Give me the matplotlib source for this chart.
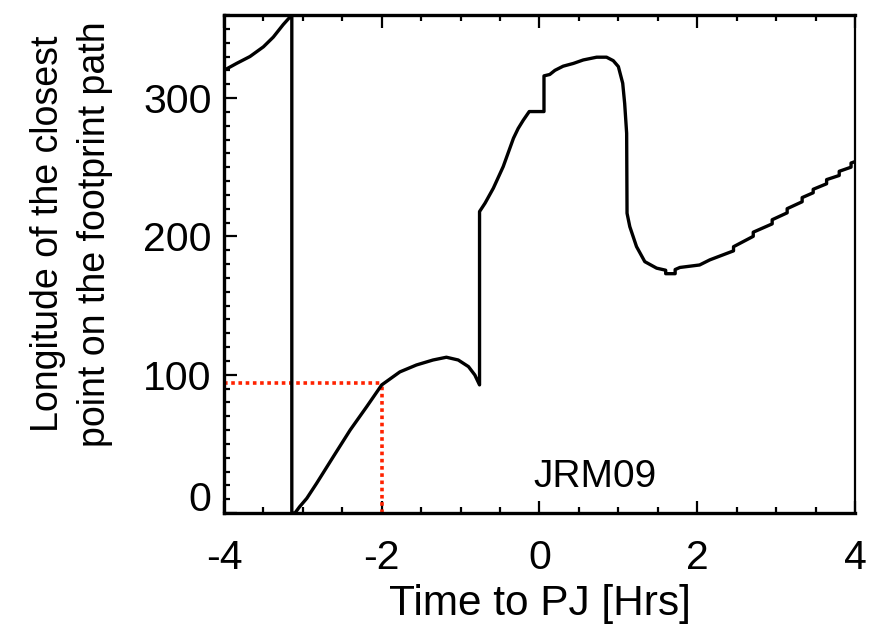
import matplotlib
matplotlib.use("Agg")
import matplotlib.pyplot as plt
from matplotlib.ticker import MultipleLocator

# time to perijove [hrs] and longitude of closest footprint point [deg]
time_hrs = [-4.0, -3.84, -3.67, -3.50, -3.375, -3.25, -3.14, -3.14, -3.10, -3.04,
            -2.95, -2.825, -2.614, -2.40, -2.19, -2.0, -1.77, -1.56, -1.35, -1.18,
            -1.03, -0.90, -0.82, -0.76, -0.76, -0.69, -0.585, -0.46, -0.33, -0.27,
            -0.205, -0.13, 0.057, 0.057, 0.13, 0.196, 0.30, 0.43, 0.555, 0.725,
            0.85, 0.935, 1.0, 1.055, 1.08, 1.105, 1.11, 1.145, 1.23, 1.335,
            1.485, 1.6, 1.6, 1.72, 1.72, 1.78, 2.03, 2.16, 2.46, 2.46,
            2.71, 2.71, 2.95, 2.95, 3.14, 3.14, 3.33, 3.33, 3.47, 3.47,
            3.64, 3.64, 3.80, 3.80, 3.95, 3.95, 4.0]
longitude = [320, 325, 330, 337, 344, 353, 360, 0, 0, 4.6,
             10.6, 21.5, 40.7, 60, 76.9, 92.6, 102, 107, 110.6, 112.6,
             110.6, 105.8, 99.8, 92.6, 217.9, 224, 234.8, 250.4, 270.9, 278,
             284, 290.2, 290.2, 316, 317, 320, 323, 325, 327.5, 329.5,
             329.5, 327, 322.7, 310.7, 296, 274.5, 216.7, 207, 192.6, 181.7,
             177, 175.5, 173, 173, 176, 177.5, 179.3, 183, 189.5, 192.5,
             200, 203, 209, 212, 217, 220, 225, 228, 231.5, 234,
             238, 241, 244, 247, 250, 253, 254]

# red marker lines
mark_t = -2.0
mark_lon = 94
model_name = "JRM09"

plt.rcParams['font.family'] = ['Liberation Sans', 'DejaVu Sans']

fig = plt.figure(figsize=(8.78, 6.25), dpi=100)
ax = fig.add_axes([0.2551, 0.1792, 0.7187, 0.7968])

ax.plot(time_hrs, longitude, color='black', lw=2.4, zorder=3)
ax.plot([-4, mark_t], [mark_lon, mark_lon], color='#ff2200', lw=2.6,
        linestyle=(0, (1, 1)), zorder=2)
ax.plot([mark_t, mark_t], [0, mark_lon], color='#ff2200', lw=2.6,
        linestyle=(0, (1, 1)), zorder=2)

ax.set_xlim(-4, 4)
ax.set_ylim(0, 360)
ax.set_xticks([-4, -2, 0, 2, 4])
ax.set_xticklabels(['-4', '-2', '0', '2', '4'])
ax.xaxis.set_minor_locator(MultipleLocator(0.5))
ax.set_yticks([0, 100, 200, 300])
ax.set_yticklabels(['', '100', '200', '300'])
ax.yaxis.set_minor_locator(MultipleLocator(10))

ax.tick_params(which='both', direction='in', top=True, right=False, width=1.6, labelsize=29.5)
ax.tick_params(which='major', length=9)
ax.tick_params(which='minor', length=4)
ax.tick_params(axis='x', pad=19)
ax.tick_params(axis='y', pad=9)

# zero label sits a bit above the axis corner in the original
ax.annotate('0', xy=(0, 0), xycoords='axes fraction', xytext=(-9.5, 9.5),
            textcoords='offset points', ha='right', va='center', fontsize=29.5)

for side in ['left', 'bottom', 'top']:
    ax.spines[side].set_linewidth(2.4)
ax.spines['right'].set_linewidth(1.6)

ax.set_xlabel('Time to PJ [Hrs]', fontsize=30.5)
ax.xaxis.label.set_va('baseline')
ax.xaxis.set_label_coords(0.5, -0.2048)

fig.text(0.0815, 0.6256, 'Longitude of the closest\npoint on the footprint path',
         rotation=90, ha='center', va='center', fontsize=27, linespacing=1.4)

ax.text(0.7, 19, model_name, fontsize=28, ha='center', va='baseline')

fig.savefig('out.png', dpi=100)
